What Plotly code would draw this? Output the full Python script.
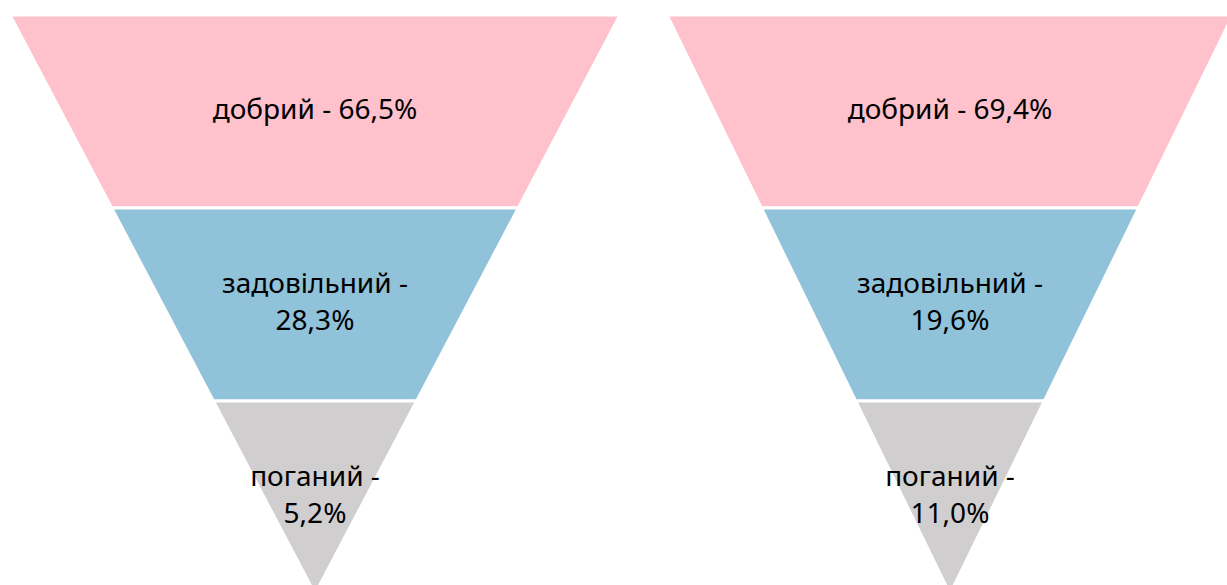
import plotly.graph_objects as go

# Survey results: share of each rating in two groups
categories = ["добрий", "задовільний", "поганий"]
values_left = [66.5, 28.3, 5.2]
values_right = [69.4, 19.6, 11.0]

colors = ["#FFC1CC", "#90C2DA", "#D0CECE"]

W, H = 1227, 585
TOP_PX = 15          # top edge of both pyramids
APEX_PX = 594        # apex sits just below the visible area


def label(cat, val, wrap):
    num = f"{val:.1f}".replace(".", ",") + "%"
    return f"{cat} -<br>{num}" if wrap else f"{cat} - {num}"


def pyramid(fig, values, xaxis, yaxis):
    n = len(categories)
    for i, (cat, val, col) in enumerate(zip(categories, values, colors)):
        yt, yb = n - i, n - i - 1
        wt, wb = yt / n, yb / n
        fig.add_trace(go.Scatter(
            x=[-wt, wt, wb, -wb, -wt], y=[yt, yt, yb, yb, yt],
            mode="lines", fill="toself", fillcolor=col,
            line=dict(color="white", width=3),
            xaxis=xaxis, yaxis=yaxis, hoverinfo="skip", showlegend=False,
        ))
        fig.add_trace(go.Scatter(
            x=[0], y=[n - i - 0.5], mode="text",
            text=[label(cat, val, wrap=i > 0)],
            textfont=dict(family="Noto Sans", size=28, color="black"),
            xaxis=xaxis, yaxis=yaxis, hoverinfo="skip", showlegend=False,
        ))


fig = go.Figure()
pyramid(fig, values_left, "x", "y")
pyramid(fig, values_right, "x2", "y2")

n = len(categories)
ydom = [0, 1 - TOP_PX / H]
px_per_unit = (APEX_PX - TOP_PX) / n
# the apex (y = 0) lies below the bottom edge of the figure
yrange = [(APEX_PX - H) / px_per_unit, n]

# left pyramid: centre 315px, half width 305px
lc, lh = 315, 305
# right pyramid: centre 950px, half width 283px (cut by the right edge)
rc, rh = 950, 283

axis_off = dict(visible=False, showgrid=False, zeroline=False, fixedrange=True)
fig.update_layout(
    width=W, height=H,
    margin=dict(l=0, r=0, t=0, b=0),
    paper_bgcolor="white", plot_bgcolor="white",
    showlegend=False, hovermode=False,
    xaxis=dict(domain=[(lc - lh) / W, (lc + lh) / W], range=[-1, 1], **axis_off),
    yaxis=dict(domain=ydom, range=yrange, **axis_off),
    xaxis2=dict(domain=[(rc - rh) / W, 1], range=[-1, (W - rc) / rh],
                anchor="y2", **axis_off),
    yaxis2=dict(domain=ydom, range=yrange, anchor="x2", **axis_off),
)

fig.write_html("out.html")
